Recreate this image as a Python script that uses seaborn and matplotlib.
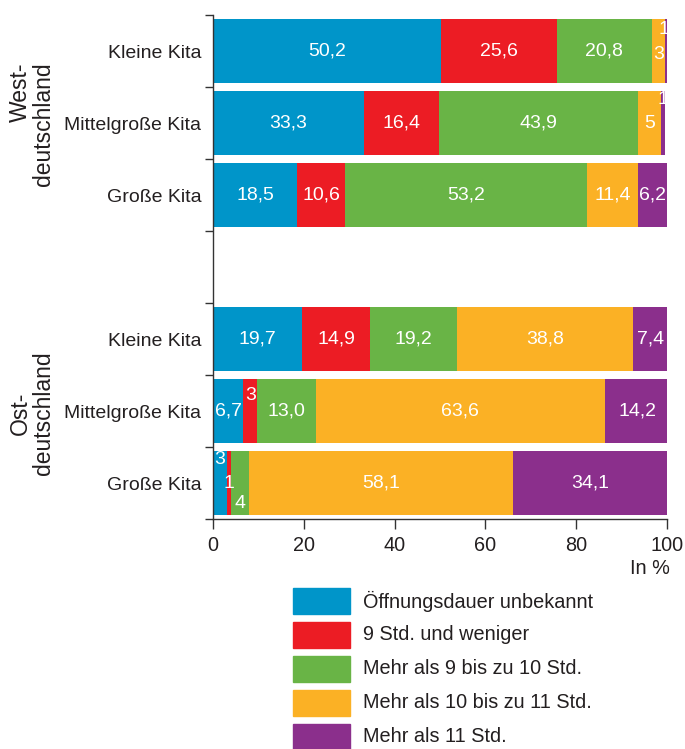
import numpy as np
import pandas as pd
import matplotlib
matplotlib.use("Agg")
import matplotlib.pyplot as plt
import seaborn as sns

# Anteile der Kitas nach täglicher Öffnungsdauer, in %
categories = ["Öffnungsdauer unbekannt", "9 Std. und weniger",
              "Mehr als 9 bis zu 10 Std.", "Mehr als 10 bis zu 11 Std.",
              "Mehr als 11 Std."]
row_labels = ["Kleine Kita", "Mittelgroße Kita", "Große Kita",
              "Kleine Kita", "Mittelgroße Kita", "Große Kita"]
regions = ["West-\ndeutschland", "Ost-\ndeutschland"]

west_klein = [50.2, 25.6, 20.8, 3, 1]
west_mittel = [33.3, 16.4, 43.9, 5, 1]
west_gross = [18.5, 10.6, 53.2, 11.4, 6.2]
ost_klein = [19.7, 14.9, 19.2, 38.8, 7.4]
ost_mittel = [6.7, 3, 13.0, 63.6, 14.2]
ost_gross = [3, 1, 4, 58.1, 34.1]

x_ticks = [0, 20, 40, 60, 80, 100]

colors = ["#0095c9", "#ec1c24", "#69b446", "#fbb125", "#8b2f8c"]

rows = [west_klein, west_mittel, west_gross, ost_klein, ost_mittel, ost_gross]
positions = [0, 1, 2, 4, 5, 6]  # slot 3 stays empty between the regions

records = []
for pos, vals in zip(positions, rows):
    left = 0.0
    for cat, v in zip(categories, vals):
        records.append({"pos": pos, "cat": cat, "value": v,
                        "left": left, "right": left + v})
        left += v
df = pd.DataFrame(records)

sns.set_theme(style="white")
plt.rcParams["font.family"] = ["Liberation Sans", "DejaVu Sans"]

TXT = "#231f20"
FS = 14.3

fig = plt.figure(figsize=(6.85, 7.49), dpi=100)
ax = fig.add_axes([213 / 685, 1 - 519 / 749, 454 / 685, 504 / 749])

# Stacked bars: draw cumulative totals from the last segment backwards
for cat, col in reversed(list(zip(categories, colors))):
    sub = df[df["cat"] == cat]
    sns.barplot(data=sub, x="right", y="pos", orient="h", native_scale=True,
                color=col, saturation=1, width=0.9, ax=ax, label=cat,
                linewidth=0)

# Value labels inside the segments (small values nudged vertically)
nudge = {(0, 3): 0.05, (0, 4): -0.3, (1, 4): -0.32, (1, 3): 0.0,
         (5, 1): -0.22, (6, 0): -0.32, (6, 2): 0.28}
x_shift = {(0, 4): -0.8}
for _, r in df.iterrows():
    v = r["value"]
    txt = f"{v:.0f}" if v < 6 else f"{v:.1f}".replace(".", ",")
    ci = categories.index(r["cat"])
    pos = int(r["pos"])
    xc = r["left"] + v / 2 + x_shift.get((pos, ci), 0)
    yc = pos + nudge.get((pos, ci), 0)
    ax.text(xc, yc, txt, ha="center", va="center", color="white",
            fontsize=14)

ax.set_xlim(0, 100)
ax.set_ylim(6.5, -0.5)
ax.set_xticks(x_ticks)
ax.set_xticklabels([str(t) for t in x_ticks])
ax.set_yticks(np.arange(-0.5, 7, 1))
ax.set_yticklabels([])
ax.set_yticks(positions, minor=True)
ax.set_yticklabels(row_labels, minor=True)
ax.tick_params(axis="y", which="major", length=6, width=1, color="#333333",
               direction="out", left=True)
ax.tick_params(axis="y", which="minor", length=0, pad=8.5, labelsize=14,
               labelcolor=TXT)
ax.tick_params(axis="x", length=7, width=1, color="#333333", direction="out",
               bottom=True, labelsize=FS, labelcolor=TXT, pad=5)
ax.set_xlabel("")
ax.set_ylabel("")
for side in ["top", "right"]:
    ax.spines[side].set_visible(False)
for side in ["left", "bottom"]:
    ax.spines[side].set_color("#333333")
    ax.spines[side].set_linewidth(1)
ax.grid(False)
if ax.get_legend() is not None:
    ax.get_legend().remove()

fig.text(650 / 685, 1 - 568 / 749, "In %", ha="center", va="center",
         fontsize=FS, color=TXT)

# Region labels
fig.text(32 / 685, 1 - 124 / 749, regions[0], rotation=90, ha="center",
         va="center", fontsize=16.5, multialignment="right", color=TXT,
         linespacing=1.0)
fig.text(32 / 685, 1 - 413 / 749, regions[1], rotation=90, ha="center",
         va="center", fontsize=16.5, multialignment="center", color=TXT,
         linespacing=1.0)

# Legend as colour boxes with labels
for i, (cat, col) in enumerate(zip(categories, colors)):
    top = 588 + 34 * i
    fig.patches.append(plt.Rectangle((293 / 685, 1 - (top + 26) / 749),
                                     57 / 685, 26 / 749, color=col,
                                     transform=fig.transFigure, figure=fig))
    fig.text(363 / 685, 1 - (top + 13) / 749, cat, ha="left", va="center",
             fontsize=FS, color=TXT)

fig.savefig("out.png", dpi=100)
